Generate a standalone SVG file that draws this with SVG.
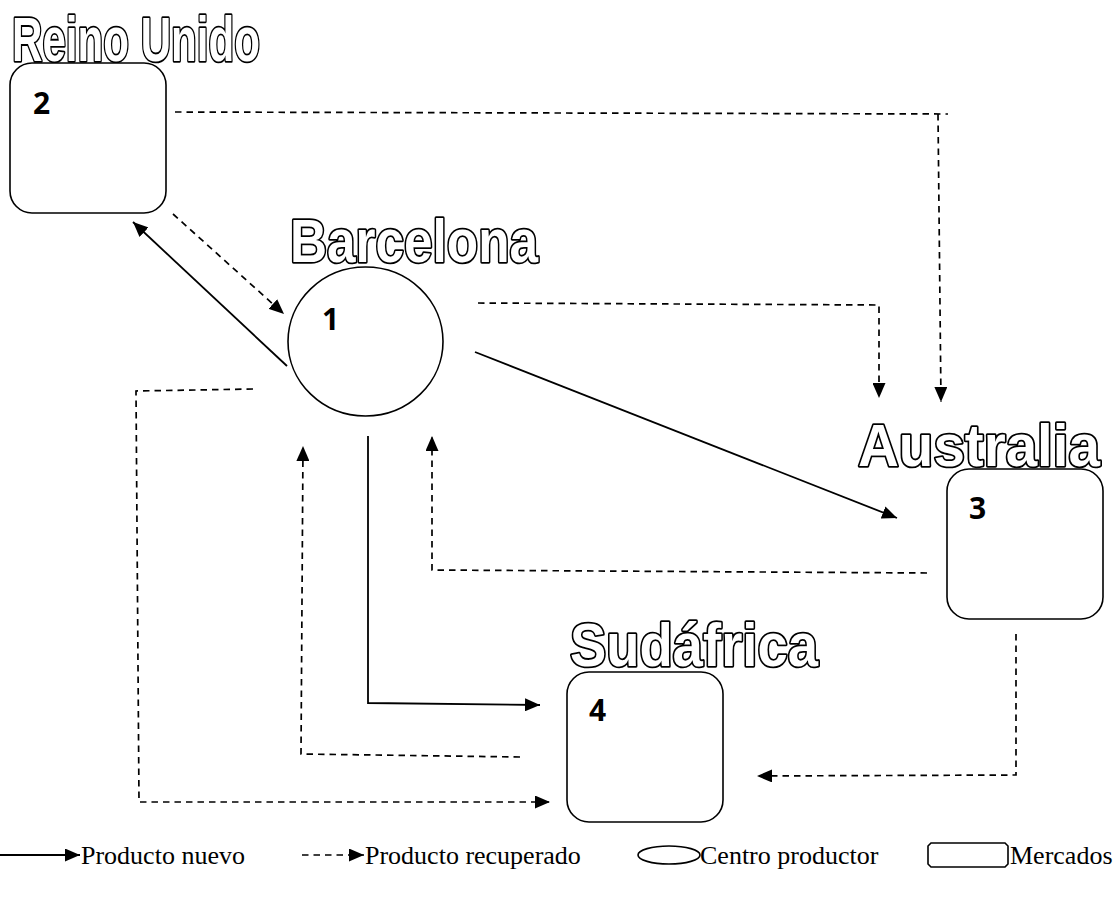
<svg xmlns="http://www.w3.org/2000/svg" width="1115" height="899" viewBox="0 0 1115 899">
<style>
.title{font-family:"Liberation Sans",Arial,sans-serif;font-weight:bold;font-size:46px;fill:#fff;stroke:#000;stroke-width:3.2px;paint-order:stroke;stroke-linejoin:round;vector-effect:non-scaling-stroke}
.num{font-family:"Open Sans","Noto Sans",sans-serif;font-weight:bold;font-size:30px;fill:#000}
.box{fill:#fff;stroke:#000;stroke-width:1.6}
.solid{fill:none;stroke:#000;stroke-width:1.8}
.dash{fill:none;stroke:#000;stroke-width:1.7;stroke-dasharray:6.5,5}
.leg{font-family:"Liberation Serif","Times New Roman",serif;font-size:26px;fill:#000}
</style>
<defs>
<marker id="arr" markerUnits="userSpaceOnUse" markerWidth="16" markerHeight="13" refX="15" refY="6.5" orient="auto">
<path d="M0,0 L15,6.5 L0,13 z" fill="#000"/>
</marker>
</defs>
<rect width="1115" height="899" fill="#fff"/>

<g id="node-reino-unido">
<text class="title" transform="translate(12,60.5) scale(1,1.38)" x="0" y="0" textLength="248" lengthAdjust="spacingAndGlyphs">Reino Unido</text>
<rect class="box" x="10" y="63" width="156" height="150" rx="22"/>
<text class="num" x="33" y="114">2</text>
</g>

<g id="node-barcelona">
<text class="title" transform="translate(290,261.5) scale(1,1.33)" x="0" y="0" textLength="248" lengthAdjust="spacingAndGlyphs">Barcelona</text>
<ellipse class="box" cx="365.5" cy="341.5" rx="77.5" ry="74.5"/>
<text class="num" x="322" y="330">1</text>
</g>

<g id="node-australia">
<text class="title" transform="translate(858,465.5) scale(1,1.3)" x="0" y="0" textLength="242" lengthAdjust="spacingAndGlyphs">Australia</text>
<rect class="box" x="947" y="469" width="156" height="150" rx="22"/>
<text class="num" x="969" y="519">3</text>
</g>

<g id="node-sudafrica">
<text class="title" transform="translate(570,665.5) scale(1,1.32)" x="0" y="0" textLength="248" lengthAdjust="spacingAndGlyphs">Sudáfrica</text>
<rect class="box" x="567" y="672" width="156" height="150" rx="22"/>
<text class="num" x="589" y="721">4</text>
</g>

<g id="connectors">
<line class="solid" x1="287" y1="366" x2="133" y2="222" marker-end="url(#arr)"/>
<line class="dash" x1="173" y1="214" x2="284" y2="314" marker-end="url(#arr)"/>
<polyline class="dash" points="175,112 948,114"/>
<polyline class="dash" points="938,114 941,402" marker-end="url(#arr)"/>
<polyline class="dash" points="478,303 879,305 879,398" marker-end="url(#arr)"/>
<line class="solid" x1="475" y1="352" x2="897" y2="518" marker-end="url(#arr)"/>
<polyline class="dash" points="927,573 432,570 432,436" marker-end="url(#arr)"/>
<polyline class="solid" points="368,436 368,703 540,705" marker-end="url(#arr)"/>
<polyline class="dash" points="520,757 301,754 303,446" marker-end="url(#arr)"/>
<polyline class="dash" points="253,389 136,391 139,802 550,802" marker-end="url(#arr)"/>
<polyline class="dash" points="1016,634 1016,775 757,776" marker-end="url(#arr)"/>
</g>

<g id="legend">
<line class="solid" x1="0" y1="855" x2="80" y2="855" marker-end="url(#arr)"/>
<text class="leg" x="81" y="864">Producto nuevo</text>
<line class="dash" x1="302" y1="855" x2="364" y2="855" marker-end="url(#arr)"/>
<text class="leg" x="365" y="864">Producto recuperado</text>
<ellipse class="box" cx="669" cy="855" rx="31" ry="9"/>
<text class="leg" x="700" y="864">Centro productor</text>
<path class="box" d="M931,843 L1005,843 L1008,846 L1008,864 L1005,867 L931,867 L928,864 L928,846 z"/>
<text class="leg" x="1010" y="864">Mercados</text>
</g>
</svg>
